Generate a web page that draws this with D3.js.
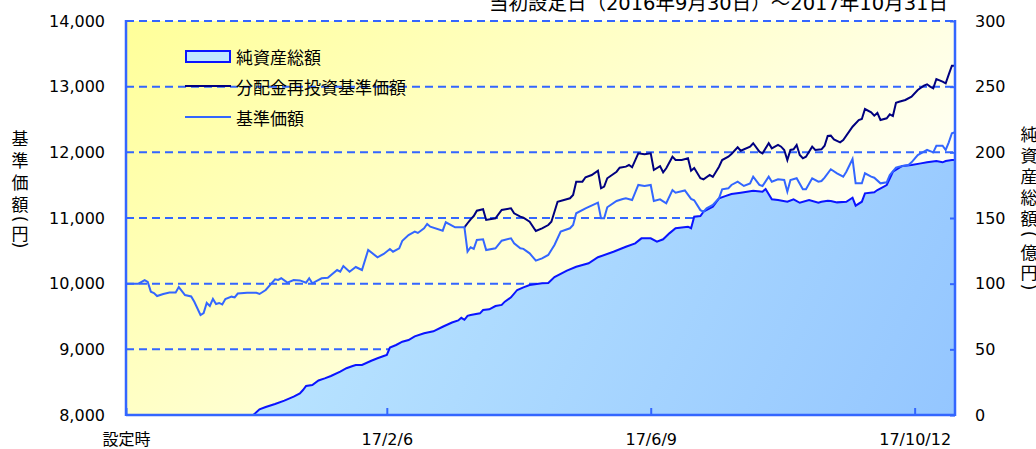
<!DOCTYPE html>
<html>
<head>
<meta charset="utf-8">
<script src="https://cdn.jsdelivr.net/npm/d3@7"></script>
<style>
  body { margin: 0; background: #fff; }
  svg { display: block; }
</style>
</head>
<body>
<svg id="chart" width="1036" height="449"></svg>
<script>
// Data (x = business day index from the launch date 2016/9/30)
const lastDay = 267
const tickDays = [0, 84, 169, 254]
const tickLabels = ['設定時', '17/2/6', '17/6/9', '17/10/12']
const leftTicks = [8000, 9000, 10000, 11000, 12000, 13000, 14000]
const rightTicks = [0, 50, 100, 150, 200, 250, 300]

// 基準価額
const navDays = [0, 4, 6, 7, 8, 9, 10, 12, 14, 16, 17, 19, 21, 22, 24, 25, 26, 27, 28, 29, 30, 31, 32, 34, 35, 36, 39, 42, 43, 45, 48, 49, 50, 52, 54, 56, 58, 59, 60, 63, 65,
  68, 69, 70, 72, 74, 76, 78, 81, 83, 85, 86, 88, 89, 91, 93, 94, 96, 97, 98, 102, 103, 106, 109, 110, 111, 112, 113, 115, 116, 119, 121, 124, 125, 127, 128, 130, 132, 134, 136, 137, 138, 140,
  143, 144, 145, 148, 152, 153, 154, 155, 158, 160, 161, 163, 165, 167, 169, 170, 172, 174, 176, 177, 180, 182, 183, 185, 186, 187, 189, 191, 192, 194, 195, 197, 199,
  201, 202, 204, 205, 207, 208, 210, 212, 213, 214, 216, 218, 219, 221, 223, 224, 225, 227, 229, 231, 232, 234, 235, 237, 238, 240, 241, 243, 245, 246, 248, 249,
  252, 253, 255, 257, 258, 260, 261, 263, 264, 265, 266, 267]
const navValues = [10000, 10000, 10055, 10025, 9878, 9858, 9812, 9843, 9866, 9866, 9949, 9827, 9805, 9725, 9523, 9553, 9706, 9660, 9767, 9690, 9706, 9683, 9767, 9802, 9790, 9850, 9862, 9862, 9843, 9904, 10067, 10056, 10082, 10015, 10056, 10050, 10015, 10082, 10006, 10082, 10091,
  10208, 10182, 10269, 10182, 10254, 10208, 10513, 10402, 10452, 10528, 10487, 10539, 10654, 10741, 10792, 10772, 10843, 10909, 10868, 10807, 10935, 10858, 10858, 10487, 10554, 10530, 10665, 10676, 10513, 10539, 10654, 10691, 10615, 10539, 10530, 10462, 10350, 10386, 10437, 10513, 10589, 10792,
  10843, 10893, 11072, 11148, 11233, 10995, 10995, 11163, 11259, 11289, 11300, 11274, 11503, 11488, 11503, 11259, 11285, 11224, 11426, 11385, 11420, 11290, 11270, 11120, 11096, 11148, 11198, 11300, 11437, 11452, 11503, 11553, 11488,
  11525, 11629, 11503, 11488, 11629, 11553, 11589, 11579, 11401, 11579, 11605, 11437, 11437, 11605, 11553, 11563, 11614, 11742, 11681, 11629, 11705, 11898, 11528, 11528, 11681, 11629, 11614, 11528, 11544, 11655, 11766, 11782,
  11807, 11848, 11959, 12010, 12036, 12000, 12101, 12101, 12036, 12153, 12290, 12305]

// 分配金再投資基準価額 (same as 基準価額 until the first distribution)
const reinvDays = [109, 110, 111, 112, 113, 115, 116, 119, 121, 124, 125, 127, 128, 130, 132, 134, 136, 137, 139, 143, 144, 145, 147, 148, 150, 152, 153, 154, 155, 158, 159, 161, 162, 163, 165, 167, 169, 170, 172, 173, 174, 176, 177, 179, 181, 182, 183, 185, 186, 188, 189, 191, 192, 194, 195, 197, 198,
  201, 202, 204, 205, 207, 208, 210, 211, 212, 213, 214, 215, 216, 217, 218, 219, 221, 222, 224, 225, 226, 227, 228, 230, 231, 234, 236, 237, 238, 240, 241, 242, 243, 245, 246, 247, 248, 249, 251, 253, 255, 257, 258, 259, 260, 261, 263, 264, 265, 266, 267]
const reinvValues = [10858, 10920, 10980, 11030, 11111, 11133, 10970, 10995, 11122, 11148, 11072, 11020, 11005, 10944, 10802, 10843, 10893, 10944, 11248, 11300, 11350, 11553, 11553, 11620, 11655, 11720, 11452, 11478, 11605, 11705, 11766, 11782, 11807, 11772, 11985, 11970, 11985, 11731, 11790, 11696, 11757, 11934, 11883, 11883, 11909, 11720, 11760, 11605, 11589, 11655, 11625, 11781, 11883, 11934, 11975, 12077, 12025,
  12086, 12138, 12010, 11985, 12138, 12061, 12112, 12086, 12036, 11883, 12036, 12046, 12112, 11959, 11909, 11934, 12086, 12036, 12046, 12101, 12249, 12254, 12198, 12153, 12188, 12390, 12492, 12508, 12660, 12610, 12558, 12600, 12492, 12518, 12579, 12553, 12756, 12771, 12797, 12847, 12949, 13015, 13036, 13000, 12975, 13117, 13076, 13051, 13188, 13319, 13319]

// 純資産総額 (億円)
const assetDays = [41, 43, 45, 48, 51, 54, 56, 57, 58, 60, 62, 64, 66, 69, 71, 73, 74, 76, 79, 81, 83, 84, 85, 87, 89, 91, 93, 96, 99, 102, 105, 107, 108, 109, 110, 111, 114, 115, 117, 119, 121, 122, 124, 126, 128, 130, 134, 136, 138,
  142, 145, 149, 152, 157, 161, 164, 166, 169, 171, 173, 175, 177, 181, 182, 183, 185, 186, 189, 191, 193, 195, 198, 202, 205, 206, 208, 210, 213, 215, 217, 220, 223, 224, 226, 227, 229, 232, 234, 235, 237, 238, 241, 242, 245, 247, 250, 253, 256, 258, 261, 263, 264, 266, 267]
const assetValues = [0, 4.3, 6.1, 8.4, 10.9, 14.0, 16.4, 19.0, 22.1, 22.8, 26.3, 27.9, 29.7, 33.0, 35.6, 37.3, 38.1, 38.1, 41.3, 43.2, 44.9, 45.7, 51.4, 53.3, 55.8, 57.1, 59.9, 62.2, 63.7, 67.2, 70.4, 72.0, 74.0, 72.5, 75.5, 76.1, 77.4, 79.9, 80.5, 83.0, 83.8, 86.3, 89.6, 95.2, 97.2, 99.0, 100.3, 100.5, 105.0,
  109.9, 112.9, 115.5, 120.1, 124.3, 128.1, 130.7, 134.5, 134.5, 132.0, 133.8, 138.3, 142.2, 143.4, 142.2, 151.0, 151.5, 154.8, 158.6, 165.0, 166.7, 168.3, 169.3, 170.8, 170.0, 172.1, 164.2, 163.7, 162.4, 164.2, 161.6, 163.7, 161.6, 162.4, 163.2, 163.0, 161.9, 162.4, 165.5, 159.4, 162.4, 168.8, 169.6, 171.3, 175.1, 185.2, 189.6, 190.4, 191.6, 192.4, 193.4, 192.4, 193.4, 194.2, 194.2]

const legendNames = ['純資産総額', '分配金再投資基準価額', '基準価額']
const chartTitle = '当初設定日（2016年9月30日）～2017年10月31日'
const leftTitle = ['基', '準', '価', '額', '(', '円', ')']
const rightTitle = ['純', '資', '産', '総', '額', '(', '億', '円', ')']

const fontNum = '"DejaVu Sans", "Noto Sans CJK JP", sans-serif'
const fontJp = '"Noto Sans CJK JP", sans-serif'
const axisBlue = '#3366ff'

const zip = (days, vals) => days.map((d, i) => ({ day: d, v: vals[i] }))

// stacked vertical title, brackets turned sideways
function verticalTitle (svg, chars, cx, ys) {
  svg.append('g').selectAll('text').data(chars).join('text')
    .attr('x', cx).attr('y', (d, i) => ys[i])
    .attr('text-anchor', 'middle').attr('dominant-baseline', 'central')
    .attr('font-family', d => '()'.includes(d) ? fontNum : fontJp)
    .attr('font-size', 17)
    .attr('transform', (d, i) => '()'.includes(d) ? `rotate(90,${cx},${ys[i]})` : null)
    .text(d => d)
}

function drawChart () {
  const dim = { left: 126, right: 955, top: 21, bottom: 415 }
  const svg = d3.select('#chart')

  const x = d3.scaleLinear().domain([0, lastDay]).range([dim.left, dim.right])
  const yLeft = d3.scaleLinear().domain([8000, 14000]).range([dim.bottom, dim.top])
  const yRight = d3.scaleLinear().domain([0, 300]).range([dim.bottom, dim.top])

  const defs = svg.append('defs')
  const bg = defs.append('linearGradient').attr('id', 'bgGrad')
    .attr('x1', 0).attr('y1', 0).attr('x2', 1).attr('y2', 0.6)
  bg.append('stop').attr('offset', 0).attr('stop-color', '#ffff99')
  bg.append('stop').attr('offset', 1).attr('stop-color', '#ffffff')
  const ag = defs.append('linearGradient').attr('id', 'areaGrad')
    .attr('gradientUnits', 'userSpaceOnUse')
    .attr('x1', dim.left).attr('y1', dim.top).attr('x2', dim.right).attr('y2', dim.bottom)
  ag.append('stop').attr('offset', 0).attr('stop-color', '#c8f0ff')
  ag.append('stop').attr('offset', 1).attr('stop-color', '#94c6ff')

  // plot background
  svg.append('rect')
    .attr('x', dim.left).attr('y', dim.top)
    .attr('width', dim.right - dim.left).attr('height', dim.bottom - dim.top)
    .attr('fill', 'url(#bgGrad)')

  // dashed grid
  svg.append('g').selectAll('line')
    .data(leftTicks.filter(d => d > 8000))
    .join('line')
    .attr('x1', dim.left).attr('x2', dim.right)
    .attr('y1', d => yLeft(d)).attr('y2', d => yLeft(d))
    .attr('stroke', axisBlue).attr('stroke-width', 2)
    .attr('stroke-dasharray', '8,5')

  // net assets area
  const area = d3.area()
    .x(d => x(d.day))
    .y0(yRight(0))
    .y1(d => yRight(d.v))
  const assets = zip(assetDays, assetValues)
  svg.append('path').datum(assets)
    .attr('d', area)
    .attr('fill', 'url(#areaGrad)')
  svg.append('path').datum(assets)
    .attr('d', d3.line().x(d => x(d.day)).y(d => yRight(d.v)))
    .attr('fill', 'none').attr('stroke', '#0a14ff').attr('stroke-width', 2)

  const line = d3.line().x(d => x(d.day)).y(d => yLeft(d.v))
  svg.append('path').datum(zip(reinvDays, reinvValues))
    .attr('d', line)
    .attr('fill', 'none').attr('stroke', '#000080').attr('stroke-width', 2)
  svg.append('path').datum(zip(navDays, navValues))
    .attr('d', line)
    .attr('fill', 'none').attr('stroke', '#3366ff').attr('stroke-width', 2)

  // frame
  const frame = svg.append('g').attr('stroke', axisBlue).attr('stroke-width', 2.5)
  frame.append('line').attr('x1', dim.left).attr('x2', dim.left).attr('y1', dim.top - 1).attr('y2', dim.bottom + 1)
  frame.append('line').attr('x1', dim.right).attr('x2', dim.right).attr('y1', dim.top - 1).attr('y2', dim.bottom + 1)
  frame.append('line').attr('x1', dim.left).attr('x2', dim.right).attr('y1', dim.bottom).attr('y2', dim.bottom)

  // axes
  const gL = svg.append('g').attr('transform', `translate(${dim.left},0)`)
    .call(d3.axisLeft(yLeft).tickValues(leftTicks).tickFormat(d3.format(',')).tickSize(0).tickPadding(21))
  const gR = svg.append('g').attr('transform', `translate(${dim.right},0)`)
    .call(d3.axisRight(yRight).tickValues(rightTicks).tickSize(-5).tickPadding(20))
  const gB = svg.append('g').attr('transform', `translate(0,${dim.bottom})`)
    .call(d3.axisBottom(x).tickValues(tickDays).tickFormat((d, i) => tickLabels[i]).tickSize(-7).tickPadding(19))
  ;[gL, gR, gB].forEach(g => {
    g.attr('font-family', fontNum).attr('font-size', 16)
    g.select('.domain').remove()
    g.selectAll('.tick line').attr('stroke', axisBlue).attr('stroke-width', 2)
    g.selectAll('text').attr('fill', '#000')
  })

  // title (the top of it runs off the page, as in the original)
  svg.append('text')
    .attr('x', 948).attr('y', 9.5)
    .attr('text-anchor', 'end')
    .attr('font-family', fontNum).attr('font-size', 19.5)
    .text(chartTitle)

  // vertical axis titles
  verticalTitle(svg, leftTitle, 20, [137, 159, 181, 203, 219, 232, 245])
  verticalTitle(svg, rightTitle, 1029, [133, 154, 175, 196, 217, 234, 251, 271, 287])

  // legend
  const lg = svg.append('g')
  lg.append('rect').attr('x', 186).attr('y', 51).attr('width', 44).attr('height', 11)
    .attr('fill', '#bfe6ff').attr('stroke', '#0a14ff').attr('stroke-width', 2)
  lg.append('line').attr('x1', 185).attr('x2', 231).attr('y1', 86).attr('y2', 86)
    .attr('stroke', '#000080').attr('stroke-width', 2)
  lg.append('line').attr('x1', 185).attr('x2', 231).attr('y1', 117).attr('y2', 117)
    .attr('stroke', '#3366ff').attr('stroke-width', 2)
  lg.selectAll('text').data(legendNames).join('text')
    .attr('x', 236).attr('y', (d, i) => [56, 86, 117][i])
    .attr('dominant-baseline', 'central')
    .attr('font-family', fontJp).attr('font-size', 17)
    .text(d => d)
}

drawChart()
</script>
</body>
</html>
